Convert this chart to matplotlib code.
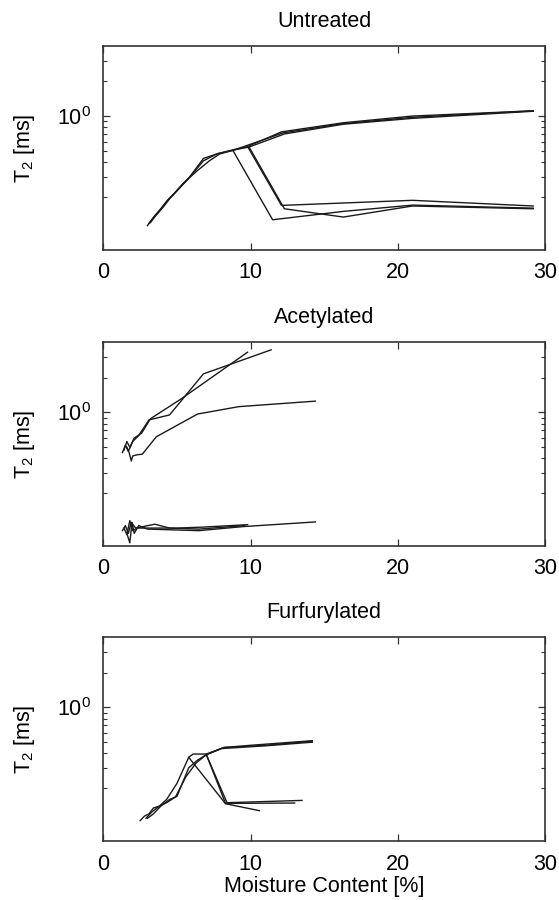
import matplotlib
matplotlib.use("Agg")
import matplotlib.pyplot as plt
from matplotlib.ticker import FixedLocator, FixedFormatter, NullFormatter

plt.rcParams['font.family'] = ['Liberation Sans', 'DejaVu Sans']
plt.rcParams['mathtext.fontset'] = 'custom'
plt.rcParams['mathtext.rm'] = 'Liberation Sans'
plt.rcParams['mathtext.it'] = 'Liberation Sans'
plt.rcParams['mathtext.default'] = 'regular'

titles = ["Untreated", "Acetylated", "Furfurylated"]
x_ticks = [0, 10, 20, 30]
y_major = [1.0]
y_minor = [0.2, 0.3, 0.4, 0.5, 0.6, 0.7, 0.8, 0.9, 2.0, 3.0]

# ---------- Untreated ----------
unt_s1_short_x = [3.0, 3.2, 3.5, 3.9, 4.3, 4.7, 5.3, 6.0, 6.8, 7.7, 8.8, 11.5, 16.3, 21.0, 29.2]
unt_s1_short_y = [0.113, 0.123, 0.138, 0.158, 0.183, 0.205, 0.25, 0.31, 0.41, 0.47, 0.505, 0.127, 0.15, 0.17, 0.16]
unt_s1_long_x = [8.8, 12.2, 16.3, 21.0, 29.2]
unt_s1_long_y = [0.505, 0.715, 0.86, 0.975, 1.11]

unt_s2_short_x = [3.1, 3.4, 3.8, 4.4, 5.0, 5.8, 6.8, 7.8, 8.8, 9.8, 12.1, 21.0, 29.2]
unt_s2_short_y = [0.118, 0.132, 0.15, 0.19, 0.225, 0.29, 0.43, 0.475, 0.51, 0.545, 0.169, 0.187, 0.167]
unt_s2_long_x = [9.8, 12.1, 16.3, 21.0, 29.2]
unt_s2_long_y = [0.545, 0.73, 0.875, 1.0, 1.11]

unt_s3_short_x = [3.2, 3.6, 4.1, 4.6, 5.4, 6.3, 7.2, 7.9, 8.9, 9.9, 12.3, 16.3, 21.0, 29.2]
unt_s3_short_y = [0.12, 0.14, 0.165, 0.2, 0.26, 0.33, 0.41, 0.47, 0.51, 0.54, 0.158, 0.134, 0.167, 0.158]
unt_s3_long_x = [9.9, 12.3, 16.3, 21.0, 29.2]
unt_s3_long_y = [0.54, 0.7, 0.85, 0.955, 1.1]

# ---------- Acetylated ----------
ace_s1_long_x = [1.3, 1.5, 1.7, 2.0, 2.4, 3.1, 4.5, 6.8, 11.4]
ace_s1_long_y = [0.45, 0.52, 0.46, 0.56, 0.63, 0.86, 0.95, 2.15, 3.47]
ace_s1_short_x = [1.3, 1.5, 1.7, 1.9, 2.2, 3.5, 4.5, 6.5, 9.6]
ace_s1_short_y = [0.095, 0.105, 0.09, 0.112, 0.1, 0.108, 0.1, 0.098, 0.105]

ace_s2_long_x = [1.4, 1.6, 1.8, 2.1, 2.6, 3.2, 5.3, 9.8]
ace_s2_long_y = [0.47, 0.56, 0.5, 0.6, 0.66, 0.88, 1.31, 3.31]
ace_s2_short_x = [1.4, 1.6, 1.8, 2.0, 2.3, 3.0, 5.0, 6.8, 9.8]
ace_s2_short_y = [0.1, 0.088, 0.116, 0.095, 0.1, 0.1, 0.1, 0.102, 0.107]

ace_s3_long_x = [1.6, 1.75, 1.9, 2.0, 2.3, 2.65, 3.6, 6.4, 9.2, 14.4]
ace_s3_long_y = [0.5, 0.45, 0.38, 0.42, 0.43, 0.435, 0.615, 0.967, 1.12, 1.25]
ace_s3_short_x = [1.6, 1.8, 1.95, 2.1, 2.4, 3.0, 6.5, 9.5, 14.4]
ace_s3_short_y = [0.09, 0.0745, 0.112, 0.09, 0.105, 0.098, 0.095, 0.103, 0.113]

# ---------- Furfurylated ----------
fur_s1_short_x = [2.5, 2.8, 3.1, 3.4, 3.8, 4.3, 5.0, 5.8, 8.3, 10.6]
fur_s1_short_y = [0.105, 0.115, 0.12, 0.135, 0.14, 0.16, 0.22, 0.37, 0.147, 0.128]
fur_s1_long_x = [5.8, 6.1, 7.0, 8.2, 11.0, 14.2]
fur_s1_long_y = [0.37, 0.395, 0.395, 0.45, 0.47, 0.51]

fur_s2_short_x = [2.9, 3.3, 3.8, 4.3, 4.9, 5.6, 6.3, 7.0, 8.4, 13.5]
fur_s2_short_y = [0.11, 0.125, 0.14, 0.15, 0.168, 0.25, 0.33, 0.39, 0.15, 0.157]
fur_s2_long_x = [7.0, 8.2, 10.0, 14.2]
fur_s2_long_y = [0.39, 0.45, 0.47, 0.515]

fur_s3_short_x = [3.0, 3.4, 3.9, 4.5, 5.0, 5.8, 6.4, 7.0, 8.3, 13.0]
fur_s3_short_y = [0.11, 0.12, 0.14, 0.16, 0.17, 0.3, 0.35, 0.39, 0.148, 0.149]
fur_s3_long_x = [7.0, 8.0, 11.0, 14.2]
fur_s3_long_y = [0.39, 0.44, 0.465, 0.50]

panels = [
    [(unt_s1_short_x, unt_s1_short_y), (unt_s1_long_x, unt_s1_long_y),
     (unt_s2_short_x, unt_s2_short_y), (unt_s2_long_x, unt_s2_long_y),
     (unt_s3_short_x, unt_s3_short_y), (unt_s3_long_x, unt_s3_long_y)],
    [(ace_s1_long_x, ace_s1_long_y), (ace_s1_short_x, ace_s1_short_y),
     (ace_s2_long_x, ace_s2_long_y), (ace_s2_short_x, ace_s2_short_y),
     (ace_s3_long_x, ace_s3_long_y), (ace_s3_short_x, ace_s3_short_y)],
    [(fur_s1_short_x, fur_s1_short_y), (fur_s1_long_x, fur_s1_long_y),
     (fur_s2_short_x, fur_s2_short_y), (fur_s2_long_x, fur_s2_long_y),
     (fur_s3_short_x, fur_s3_short_y), (fur_s3_long_x, fur_s3_long_y)],
]

fig = plt.figure(figsize=(5.59, 9.0), dpi=100)
left = 103.3 / 559
width = 441.7 / 559
height = 203.7 / 900
bottoms = [(900 - 249.7) / 900, (900 - 546) / 900, (900 - 841) / 900]

fs = 15.5
edge = '#333333'
for i, (ttl, series) in enumerate(zip(titles, panels)):
    ax = fig.add_axes([left, bottoms[i], width, height])
    for xs, ys in series:
        ax.plot(xs, ys, color='#1a1a1a', lw=1.0)
    ax.set_yscale('log')
    ax.set_xlim(0, 30)
    ax.set_ylim(0.07, 4.03)
    ax.set_xticks(x_ticks)
    ax.set_xticklabels([str(t) for t in x_ticks])
    ax.yaxis.set_major_locator(FixedLocator(y_major))
    ax.yaxis.set_major_formatter(FixedFormatter([r'$10^0$']))
    ax.yaxis.set_minor_locator(FixedLocator(y_minor))
    ax.yaxis.set_minor_formatter(NullFormatter())
    ax.tick_params(axis='both', which='major', direction='in', length=5,
                   width=0.9, color=edge, top=True, right=True,
                   labelsize=fs, pad=9)
    ax.tick_params(axis='y', which='minor', direction='in', length=3,
                   width=0.8, color=edge, right=True)
    for sp in ax.spines.values():
        sp.set_color(edge)
        sp.set_linewidth(1.2)
    ax.set_title(ttl, fontsize=fs, pad=14)
    ax.set_ylabel(r'T$_2$ [ms]', fontsize=fs, labelpad=14)
    if i == 2:
        ax.set_xlabel('Moisture Content [%]', fontsize=fs, labelpad=1)

fig.savefig('out.png', dpi=100)
